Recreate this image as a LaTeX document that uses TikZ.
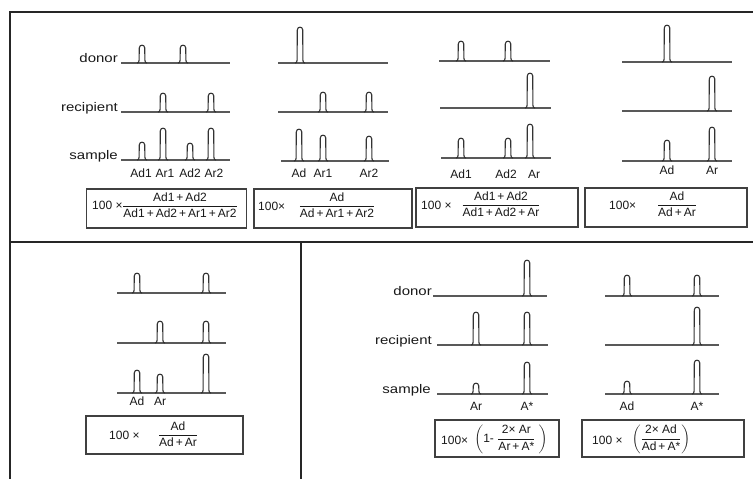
\documentclass[tikz,border=0pt]{standalone}
\usepackage{fontspec}
\usepackage{amsmath}
\setmainfont{Liberation Sans}
\newfontfamily\rowfont[FakeStretch=1.2]{Liberation Sans}
\newfontfamily\formfont{Liberation Sans}
\newcommand\pk[3]{%
  \draw[peakline] ({#1-5},#2) .. controls ({#1-3.4},#2) and ({#1-2.9},{#2-1}) .. ({#1-2.9},{#2-3})
    -- ({#1-2.7},{#2-#3+2.8}) .. controls ({#1-2.5},{#2-#3-0.7}) and ({#1+2.5},{#2-#3-0.7}) .. ({#1+2.7},{#2-#3+2.8})
    -- ({#1+2.9},{#2-3}) .. controls ({#1+2.9},{#2-1}) and ({#1+3.4},#2) .. ({#1+5},#2);}
\begin{document}
\begin{tikzpicture}[x=1pt,y=-1pt,
  frameline/.style={line width=1.6pt, black!85},
  baseline/.style={line width=1.3pt, black!65},
  peakline/.style={line width=1.1pt, black!80},
  fbox/.style={draw=black!75, line width=1.4pt, inner sep=0pt},
  rowlbl/.style={anchor=base east, inner sep=0pt, font=\rowfont\fontsize{12.5}{14}\selectfont, text=black!90},
  pklbl/.style={anchor=base, inner sep=0pt, font=\fontsize{12}{14}\selectfont, text=black!90},
  hund/.style={anchor=west, inner sep=0pt, font=\formfont\fontsize{12}{14}\selectfont, text=black!90},
  fracn/.style={inner sep=0pt, font=\formfont\fontsize{12}{14}\selectfont, text=black!90}]
\useasboundingbox (0,0) rectangle (753,479);
\fill[white] (0,0) rectangle (753,479);
% frame
\coordinate (tl) at (10,12); \coordinate (tr) at (753,12);
\coordinate (bl) at (10,479); \coordinate (ml) at (10,242); \coordinate (mr) at (753,242);
\coordinate (vt) at (301,242); \coordinate (vb) at (301,479);
\draw[frameline] (bl) -- (tl) -- (tr);
\draw[frameline] (ml) -- (mr);
\draw[frameline] (vt) -- (vb);

% ---------- panel 1
\node[rowlbl] (d1) at (118,62) {donor};
\node[rowlbl] (r1) at (118,111) {recipient};
\node[rowlbl] (s1) at (118,159) {sample};
\draw[baseline] (121,63) -- (230,63);
\draw[baseline] (121,112) -- (230,112);
\draw[baseline] (121,160) -- (230,160);
\pk{142}{63}{18}\pk{183}{63}{18}
\pk{163}{112}{19}\pk{211}{112}{19}
\pk{142}{160}{18}\pk{163}{160}{32}\pk{190}{160}{17}\pk{211}{160}{32}
\node[pklbl] (l1a) at (141,177) {Ad1};
\node[pklbl] (l1b) at (165,177) {Ar1};
\node[pklbl] (l1c) at (190,177) {Ad2};
\node[pklbl] (l1d) at (214,177) {Ar2};
\node[fbox, minimum width=160pt, minimum height=39pt] (b1) at (166.5,208.5) {};
\node[hund] (h1) at (92,205) {100 ×};
\node[fracn] (f1) at (180,205) {$\dfrac{\text{Ad1\,+\,Ad2}}{\text{Ad1\,+\,Ad2\,+\,Ar1\,+\,Ar2}}$};

% ---------- panel 2
\draw[baseline] (278,63) -- (388,63);
\draw[baseline] (278,112) -- (388,112);
\draw[baseline] (281,161) -- (389,161);
\pk{300}{63}{36}
\pk{323}{112}{20}\pk{369}{112}{20}
\pk{299}{161}{32}\pk{323}{161}{26}\pk{369}{161}{25}
\node[pklbl] (l2a) at (299,177) {Ad};
\node[pklbl] (l2b) at (323,177) {Ar1};
\node[pklbl] (l2c) at (369,177) {Ar2};
\node[fbox, minimum width=158pt, minimum height=39pt] (b2) at (333,208.5) {};
\node[hund] (h2) at (258,206) {100×};
\node[fracn] (f2) at (337,205) {$\dfrac{\text{Ad}}{\text{Ad\,+\,Ar1\,+\,Ar2}}$};

% ---------- panel 3
\draw[baseline] (439,61) -- (550,61);
\draw[baseline] (440,108) -- (551,108);
\draw[baseline] (441,158) -- (551,158);
\pk{461}{61}{20}\pk{508}{61}{20}
\pk{530}{108}{35}
\pk{461}{158}{20}\pk{508}{158}{20}\pk{530}{158}{34}
\node[pklbl] (l3a) at (461,178) {Ad1};
\node[pklbl] (l3b) at (506,178) {Ad2};
\node[pklbl] (l3c) at (534,178) {Ar};
\node[fbox, minimum width=162pt, minimum height=39pt] (b3) at (497,207.5) {};
\node[hund] (h3) at (421,205) {100 ×};
\node[fracn] (f3) at (501,204) {$\dfrac{\text{Ad1\,+\,Ad2}}{\text{Ad1\,+\,Ad2\,+\,Ar}}$};

% ---------- panel 4
\draw[baseline] (622,62) -- (732,62);
\draw[baseline] (622,111) -- (732,111);
\draw[baseline] (622,161) -- (732,161);
\pk{667}{62}{37}
\pk{712}{111}{35}
\pk{667}{161}{21}\pk{712}{161}{34}
\node[pklbl] (l4a) at (667,174) {Ad};
\node[pklbl] (l4b) at (712,174) {Ar};
\node[fbox, minimum width=162pt, minimum height=39pt] (b4) at (666,207.5) {};
\node[hund] (h4) at (609,205) {100×};
\node[fracn] (f4) at (677,204) {$\dfrac{\text{Ad}}{\text{Ad\,+\,Ar}}$};

% ---------- panel 5
\draw[baseline] (117,293) -- (226,293);
\draw[baseline] (117,343) -- (226,343);
\draw[baseline] (117,393) -- (226,393);
\pk{137}{293}{20}\pk{206}{293}{20}
\pk{160}{343}{22}\pk{206}{343}{22}
\pk{137}{393}{23}\pk{160}{393}{19}\pk{206}{393}{39}
\node[pklbl] (l5a) at (137,405) {Ad};
\node[pklbl] (l5b) at (160,405) {Ar};
\node[fbox, minimum width=157pt, minimum height=38pt] (b5) at (164.5,435) {};
\node[hund] (h5) at (109,435) {100 ×};
\node[fracn] (f5) at (178,434) {$\dfrac{\text{Ad}}{\text{Ad\,+\,Ar}}$};

% ---------- panel 6
\node[rowlbl] (d6) at (432,295) {donor};
\node[rowlbl] (r6) at (432,344) {recipient};
\node[rowlbl] (s6) at (431,393) {sample};
\draw[baseline] (433,296) -- (547,296);
\draw[baseline] (437,345) -- (548,345);
\draw[baseline] (437,394) -- (548,394);
\pk{527}{296}{36}
\pk{476}{345}{33}\pk{527}{345}{33}
\pk{476}{394}{11}\pk{527}{394}{32}
\node[pklbl] (l6a) at (476,410) {Ar};
\node[pklbl] (l6b) at (527,410) {A*};
\node[fbox, minimum width=124pt, minimum height=37pt] (b6) at (497,438.5) {};
\node[hund] (h6) at (441,440) {100×};
\node[fracn] (f6) at (511,439) {$\left(\text{1- }\dfrac{\text{2× Ar}}{\text{Ar\,+\,A*}}\;\right)$};

% ---------- panel 7
\draw[baseline] (605,296) -- (719,296);
\draw[baseline] (605,345) -- (719,345);
\draw[baseline] (605,394) -- (719,394);
\pk{627}{296}{21}\pk{697}{296}{21}
\pk{697}{345}{38}
\pk{627}{394}{13}\pk{697}{394}{34}
\node[pklbl] (l7a) at (627,410) {Ad};
\node[pklbl] (l7b) at (697,410) {A*};
\node[fbox, minimum width=162pt, minimum height=37pt] (b7) at (663,438.5) {};
\node[hund] (h7) at (592,440) {100 ×};
\node[fracn] (f7) at (661,439) {$\left(\dfrac{\text{2× Ad}}{\text{Ad\,+\,A*}}\right)$};
\end{tikzpicture}
\end{document}
